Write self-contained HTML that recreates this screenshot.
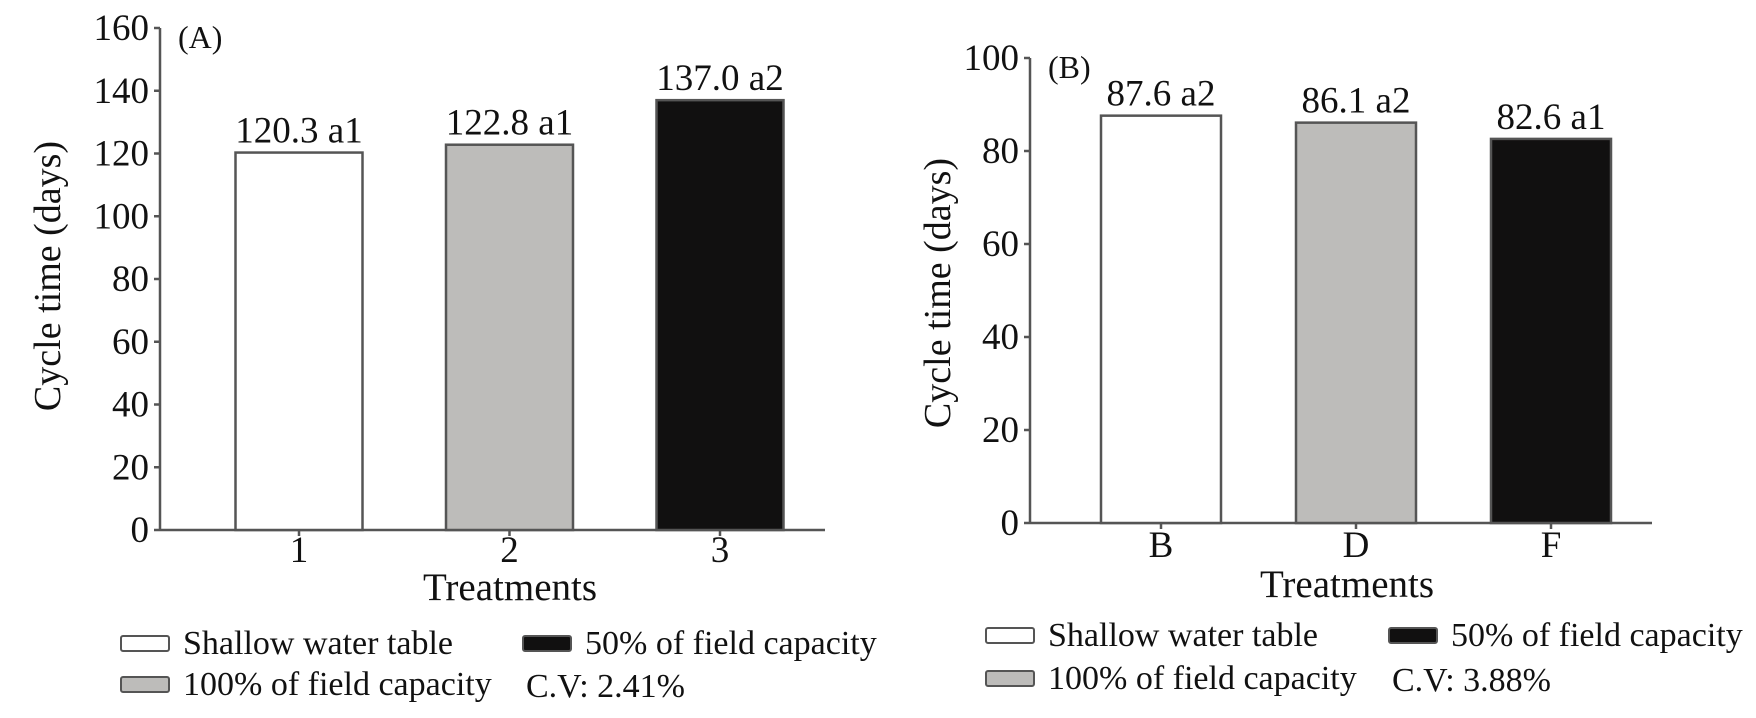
<!DOCTYPE html>
<html><head><meta charset="utf-8">
<style>
html,body{margin:0;padding:0;background:#fff;}
svg{display:block;font-family:"Liberation Serif",serif;}
</style></head>
<body>
<svg id="chart" width="1756" height="718" viewBox="0 0 1756 718"></svg>
<script>
// Panel A data
const catsA = ["1","2","3"];
const valsA = [120.3, 122.8, 137.0];
const labsA = ["120.3 a1","122.8 a1","137.0 a2"];
const ticksA = [0,20,40,60,80,100,120,140,160];
// Panel B data
const catsB = ["B","D","F"];
const valsB = [87.6, 86.1, 82.6];
const labsB = ["87.6 a2","86.1 a2","82.6 a1"];
const ticksB = [0,20,40,60,80,100];
const fills = ["#ffffff","#bdbcba","#111010"];
const cvA = "C.V: 2.41%";
const cvB = "C.V: 3.88%";

const NS="http://www.w3.org/2000/svg";
const svg=document.getElementById('chart');
function mk(tag,attrs,parent,text){
  const e=document.createElementNS(NS,tag);
  for(const k in attrs) e.setAttribute(k,attrs[k]);
  if(text!==undefined) e.textContent=text;
  (parent||svg).appendChild(e); return e;
}

function panel(cfg){
  const g=mk('g',{});
  
  
  const ymax=cfg.ticks[cfg.ticks.length-1];
  const y=v=>cfg.y0-(v/ymax)*(cfg.y0-cfg.ytop);
  const x=i=>cfg.c0+i*cfg.step;
  const ya=mk('line',{x1:cfg.ax,y1:cfg.ytop,x2:cfg.ax,y2:cfg.y0,stroke:'#555','stroke-width':2.5},g);
  
  
  const xa=mk('line',{x1:cfg.ax,y1:cfg.y0,x2:cfg.xend,y2:cfg.y0,stroke:'#555','stroke-width':2.5},g);
  
  
  cfg.ticks.forEach(t=>{
    mk('line',{x1:cfg.ax-6,y1:y(t),x2:cfg.ax,y2:y(t),stroke:'#555','stroke-width':2.5},g);
    const tl=mk('text',{x:cfg.ax-11,y:y(t)+12,'text-anchor':'end','font-size':37,fill:'#111'},g,String(t));
    
    
  });
  cfg.cats.forEach((c,i)=>{
    const cx=x(i);
    const b=mk('rect',{x:cx-cfg.bw/2,y:y(cfg.vals[i]),width:cfg.bw,height:cfg.y0-y(cfg.vals[i]),fill:fills[i],stroke:'#555','stroke-width':2.5},g);
    
    
    const vl=mk('text',{x:cx,y:y(cfg.vals[i])-10,'text-anchor':'middle','font-size':37,fill:'#111'},g,cfg.labs[i]);
    
    
    mk('line',{x1:cx,y1:cfg.y0,x2:cx,y2:cfg.y0+6,stroke:'#555','stroke-width':2.5},g);
    const xl=mk('text',{x:cx,y:cfg.y0+cfg.xtl,'text-anchor':'middle','font-size':37,fill:'#111'},g,c);
    
    
  });
  const pl=mk('text',{x:cfg.ax+18,y:cfg.ytop+20,'font-size':32,fill:'#111'},g,cfg.tag);
  
  
  const xt=mk('text',{x:cfg.xtx,y:cfg.xty,'text-anchor':'middle','font-size':39,fill:'#111'},g,'Treatments');
  
  
  const yt=mk('text',{x:0,y:0,'text-anchor':'middle','font-size':38,fill:'#111',transform:`translate(${cfg.ytx},${cfg.yty}) rotate(-90)`},g,'Cycle time (days)');
  
  
  const L=cfg.leg;
  const items=[[L.x1,L.r1,fills[0],'Shallow water table'],[L.x2,L.r1,fills[2],'50% of field capacity'],[L.x1,L.r2,fills[1],'100% of field capacity']];
  items.forEach(it=>{
    const sw=mk('rect',{x:it[0],y:it[1]-7,width:48,height:15,rx:2,fill:it[2],stroke:'#555','stroke-width':2},g);
    
    
    const lt=mk('text',{x:it[0]+62,y:it[1]+11,'font-size':34,fill:'#111'},g,it[3]);
    
    
  });
  const cv=mk('text',{x:L.x2+3,y:L.r2+13,'font-size':34,fill:'#111'},g,cfg.cv);
  
  
}

panel({name:'panel-a',tag:'(A)',cats:catsA,vals:valsA,labs:labsA,ticks:ticksA,
  ax:160,ytop:28,y0:530,xend:825,c0:299,step:210.5,bw:127,xtl:32,
  xtx:510,xty:600,ytx:60,yty:276,cv:cvA,
  leg:{x1:121,x2:523,r1:643,r2:684}});
panel({name:'panel-b',tag:'(B)',cats:catsB,vals:valsB,labs:labsB,ticks:ticksB,
  ax:1030,ytop:58,y0:523,xend:1652,c0:1161,step:195,bw:120,xtl:34,
  xtx:1347,xty:597,ytx:950,yty:293,cv:cvB,
  leg:{x1:986,x2:1389,r1:635,r2:678}});
</script>
</body></html>
